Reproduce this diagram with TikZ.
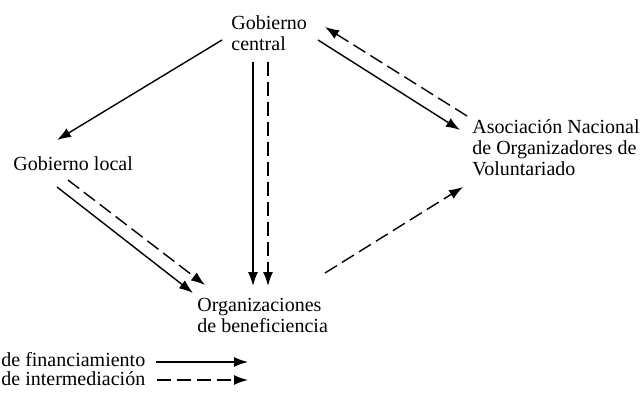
\documentclass[tikz,border=0pt]{standalone}
\usepackage{fontspec}
\setmainfont{Liberation Serif}
\usetikzlibrary{arrows.meta}

\begin{document}
\begin{tikzpicture}[x=0.5pt,y=-0.5pt, font=\fontsize{10}{10.5}\selectfont,
    lbl/.style={inner sep=0pt, align=left},
    finarrow/.style={line width=0.7pt, -{Latex[length=7pt,width=5pt]}},
    intarrow/.style={finarrow, dash pattern=on 7pt off 3pt}]
\useasboundingbox (0,0) rectangle (641,395);
\node[lbl, anchor=north west] (central) at (231,15) {Gobierno\\central};
\node[lbl, anchor=base west] (local) at (13,170) {Gobierno local};
\node[lbl, anchor=north west] (asoc) at (472,119)
  {Asociación Nacional\\de Organizadores de\\Voluntariado};
\node[lbl, anchor=north west] (org) at (197,298) {Organizaciones\\de beneficiencia};
\draw[finarrow] ([shift={(-9,25)}]central.north west) -- ([shift={(44,-30)}]local.base west);
\draw[finarrow] ([shift={(44,17)}]local.base west) -- ([shift={(-4,-5)}]org.north west);
\draw[intarrow] ([shift={(55,10)}]local.base west) -- ([shift={(8,-13)}]org.north west);
\draw[finarrow] ([shift={(22,47)}]central.north west) -- ([shift={(56,-12)}]org.north west);
\draw[intarrow] ([shift={(37,47)}]central.north west) -- ([shift={(71,-12)}]org.north west);
\draw[finarrow] ([shift={(87,25)}]central.north west) -- ([shift={(-12,11)}]asoc.north west);
\draw[intarrow] ([shift={(-5,-3)}]asoc.north west) -- ([shift={(94,12)}]central.north west);
\draw[intarrow] ([shift={(128,-25)}]org.north west) -- ([shift={(-9,68)}]asoc.north west);
\node[lbl, anchor=base west] (legfin) at (1,366) {de financiamiento};
\node[lbl, anchor=base west] (legint) at (1,385) {de intermediación};
\coordinate (finend) at (248,362);
\coordinate (intend) at (248,380);
\draw[finarrow] ([shift={(10,-4)}]legfin.base east) -- (finend);
\draw[intarrow] ([shift={(11,-5)}]legint.base east) -- (intend);
\end{tikzpicture}
\end{document}
